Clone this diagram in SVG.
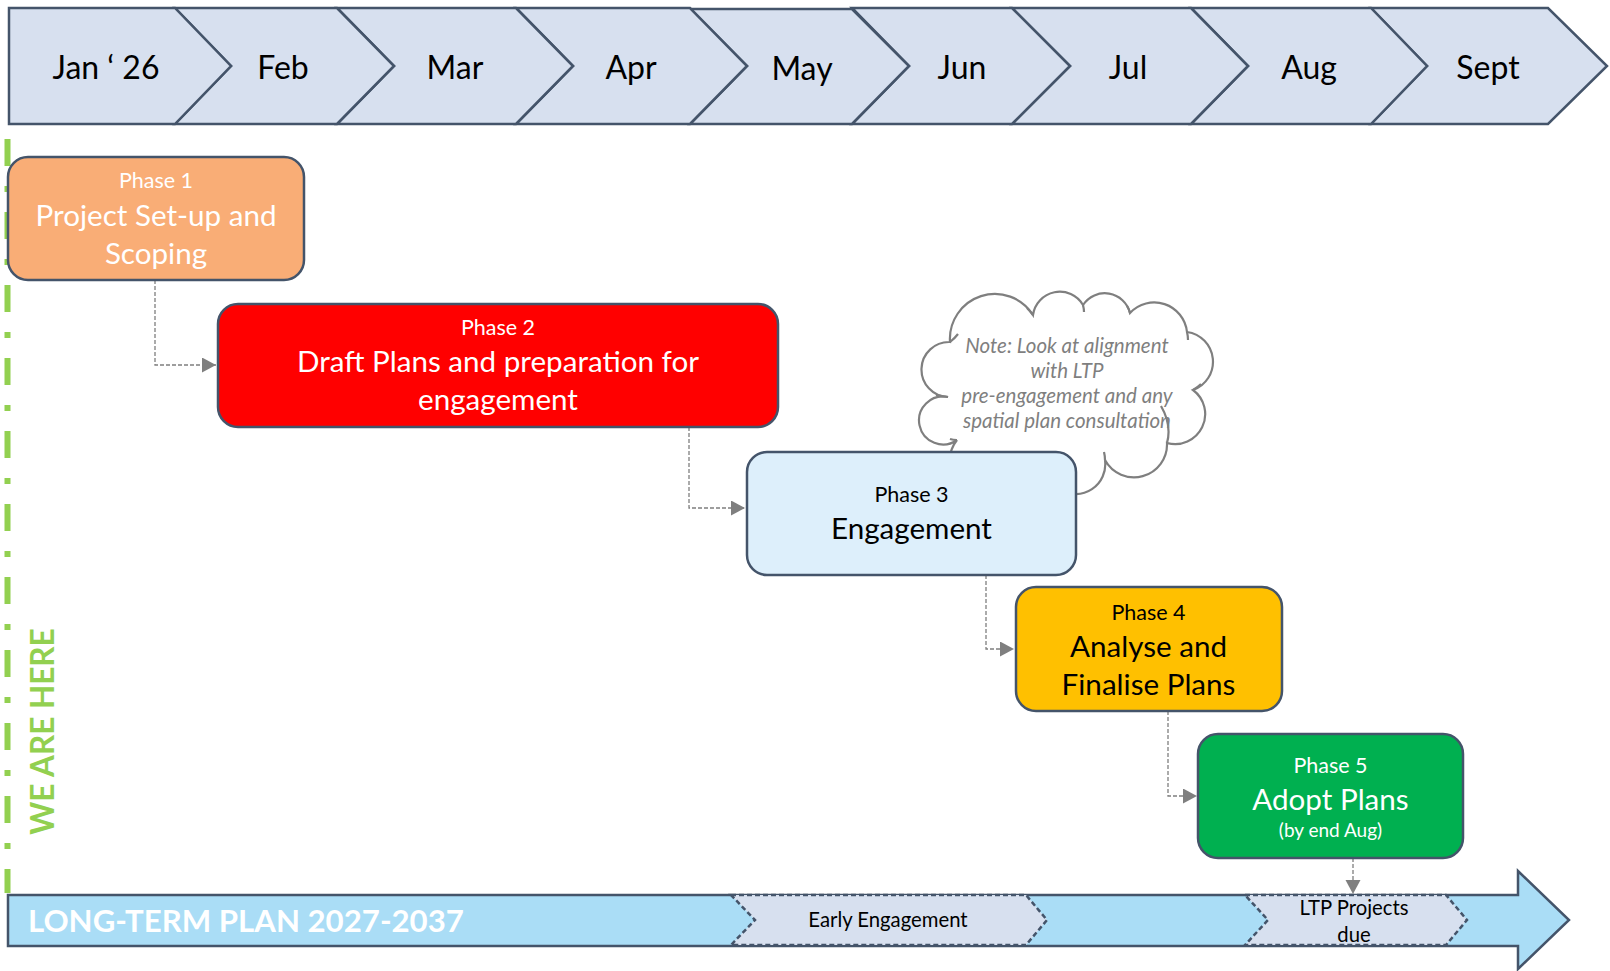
<svg xmlns="http://www.w3.org/2000/svg" width="1610" height="971" viewBox="0 0 1610 971">
<style>
.mon{fill:#D7E0EF;stroke:#44546A;stroke-width:2.5;stroke-linejoin:miter}
.mt{font-family:Lato,"Liberation Sans",sans-serif;font-size:32px;fill:#000;text-anchor:middle}
.box{stroke:#44546A;stroke-width:2.5}
.t{font-family:Lato,"Liberation Sans",sans-serif;text-anchor:middle}
.ph{font-size:21.5px}
.ti{font-size:29.6px}
.con{fill:none;stroke:#7F7F7F;stroke-width:1.3;stroke-dasharray:4 2}
.cl{fill:#fff;stroke:#7F7F7F;stroke-width:2.2}
.cli{fill:none;stroke:#7F7F7F;stroke-width:2.2}
.nt{font-family:Lato,"Liberation Sans",sans-serif;font-size:20.5px;font-style:italic;fill:#7F7F7F;text-anchor:middle}
.sub{fill:#D7E0EF;stroke:#44546A;stroke-width:2.5;stroke-dasharray:5 3}
.st{font-size:20.3px;fill:#000}
</style>
<defs>
<marker id="ah" markerUnits="userSpaceOnUse" markerWidth="15" markerHeight="16" refX="14" refY="7.5" orient="auto">
<path d="M0,0 L14,7.5 L0,15 Z" fill="#7F7F7F"/>
</marker>
</defs>
<rect width="1610" height="971" fill="#fff"/>

<g id="months">
<g id="m-sept"><path class="mon" d="M1371,8 L1548,8 L1607,66 L1548,124 L1371,124 L1427,66 Z"/><text class="mt" x="1488" y="79">Sept</text></g>
<g id="m-aug"><path class="mon" d="M1191,8 L1371,8 L1427,66 L1371,124 L1191,124 L1248,66 Z"/><text class="mt" x="1309" y="79">Aug</text></g>
<g id="m-jul"><path class="mon" d="M1012,8 L1191,8 L1248,66 L1191,124 L1012,124 L1070,66 Z"/><text class="mt" x="1128" y="79">Jul</text></g>
<g id="m-jun"><path class="mon" d="M852,8 L1012,8 L1070,66 L1012,124 L852,124 L909,66 Z"/><text class="mt" x="962" y="79">Jun</text></g>
<g id="m-may"><path class="mon" d="M690,9 L852,9 L909,66 L852,124 L690,124 L747,66 Z"/><text class="mt" x="802" y="80">May</text></g>
<g id="m-apr"><path class="mon" d="M516,8 L690,8 L747,66 L690,124 L516,124 L573,66 Z"/><text class="mt" x="631" y="79">Apr</text></g>
<g id="m-mar"><path class="mon" d="M337,8 L516,8 L573,66 L516,124 L337,124 L394,66 Z"/><text class="mt" x="455" y="79">Mar</text></g>
<g id="m-feb"><path class="mon" d="M175,8 L337,8 L394,66 L337,124 L175,124 L231,66 Z"/><text class="mt" x="283" y="79">Feb</text></g>
<g id="m-jan"><path class="mon" d="M9,8 L175,8 L231,66 L175,124 L9,124 Z"/><text class="mt" x="106" y="79">Jan ‘ 26</text></g>
</g>

<g id="we-are-here">
<line x1="7.5" y1="139" x2="7.5" y2="893" stroke="#92D050" stroke-width="6" stroke-dasharray="27 20 6 20"/>
<text transform="translate(54,731.5) rotate(-90)" font-family="Lato,'Liberation Sans',sans-serif" font-weight="bold" font-size="31.5" fill="#92D050" text-anchor="middle">WE ARE HERE</text>
</g>

<g id="ltp">
<path d="M8,895 L1518,895 L1518,871 L1569,920 L1518,969 L1518,946 L8,946 Z" fill="#AADDF6" stroke="#44546A" stroke-width="2.5"/>
<text x="28" y="932" font-family="Lato,'Liberation Sans',sans-serif" font-weight="bold" font-size="31.2" fill="#fff">LONG-TERM PLAN 2027-2037</text>
</g>

<g id="early-engagement">
<path class="sub" d="M731,895 L1026,895 L1047,920 L1026,945 L731,945 L755,920 Z"/>
<text class="t st" x="888" y="927">Early Engagement</text>
</g>

<g id="ltp-projects-due">
<path class="sub" d="M1245,895 L1446,895 L1467,920 L1446,945 L1245,945 L1268,920 Z"/>
<text class="t st" x="1354" y="915">LTP Projects</text>
<text class="t st" x="1354" y="942">due</text>
</g>

<g id="note-cloud">
<path class="cl" d="M950,342 A45,45 0 0 1 1033,315 A27,27 0 0 1 1083,305 A26,26 0 0 1 1130,313 A33,33 0 0 1 1187,332 A30,30 0 0 1 1193,390 A30,30 0 0 1 1167,443 A33,33 0 0 1 1105,460 A30,30 0 0 1 1060,490 A30,30 0 0 1 1005,485 A33,33 0 0 1 957,440 A24,24 0 1 1 948,397 A27.5,27.5 0 0 1 950,342 Z"/>
<path class="cli" d="M950,342 Q955,338 958,334 M1033,315 Q1030,311 1027,308 M1083,305 Q1084,309 1084,312 M1130,313 Q1129,309 1127,306 M1187,332 Q1188,336 1188,340 M1193,390 Q1198,387 1201,384 M1167,443 Q1172,425 1161,406 M1105,460 Q1105,456 1104,452 M948,397 Q942,396 936,395 M957,440 Q953,440 950,439"/>
<text class="nt" x="1067" y="353">Note: Look at alignment</text>
<text class="nt" x="1067" y="378">with LTP</text>
<text class="nt" x="1067" y="403">pre-engagement and any</text>
<text class="nt" x="1067" y="428">spatial plan consultation</text>
</g>

<g id="connectors">
<path class="con" d="M155,280 V365 H216" marker-end="url(#ah)"/>
<path class="con" d="M689,427 V508 H745" marker-end="url(#ah)"/>
<path class="con" d="M986,575 V649 H1014" marker-end="url(#ah)"/>
<path class="con" d="M1168,711 V796 H1197" marker-end="url(#ah)"/>
<path class="con" d="M1353,858 V894" marker-end="url(#ah)"/>
</g>

<g id="phase1">
<rect class="box" x="8" y="157" width="296" height="123" rx="20" fill="#F9AD76"/>
<text class="t ph" x="156" y="188" fill="#fff">Phase 1</text>
<text class="t ti" x="156" y="226" fill="#fff">Project Set-up and</text>
<text class="t ti" x="156" y="264" fill="#fff">Scoping</text>
</g>

<g id="phase2">
<rect class="box" x="218" y="304" width="560" height="123" rx="20" fill="#FF0000"/>
<text class="t ph" x="498" y="335" fill="#fff">Phase 2</text>
<text class="t ti" x="498" y="372" fill="#fff">Draft Plans and preparation for</text>
<text class="t ti" x="498" y="410" fill="#fff">engagement</text>
</g>

<g id="phase3">
<rect class="box" x="747" y="452" width="329" height="123" rx="20" fill="#DDEFFB"/>
<text class="t ph" x="911.5" y="502" fill="#000">Phase 3</text>
<text class="t ti" x="911.5" y="539" fill="#000">Engagement</text>
</g>

<g id="phase4">
<rect class="box" x="1016" y="587" width="266" height="124" rx="20" fill="#FFC000"/>
<text class="t ph" x="1148.5" y="620" fill="#000">Phase 4</text>
<text class="t ti" x="1148.5" y="657" fill="#000">Analyse and</text>
<text class="t ti" x="1148.5" y="695" fill="#000">Finalise Plans</text>
</g>

<g id="phase5">
<rect class="box" x="1198" y="734" width="265" height="124" rx="20" fill="#00B050"/>
<text class="t ph" x="1330.5" y="773" fill="#fff">Phase 5</text>
<text class="t ti" x="1330.5" y="810" fill="#fff">Adopt Plans</text>
<text class="t" x="1330.5" y="837" font-size="19" fill="#fff">(by end Aug)</text>
</g>
</svg>
